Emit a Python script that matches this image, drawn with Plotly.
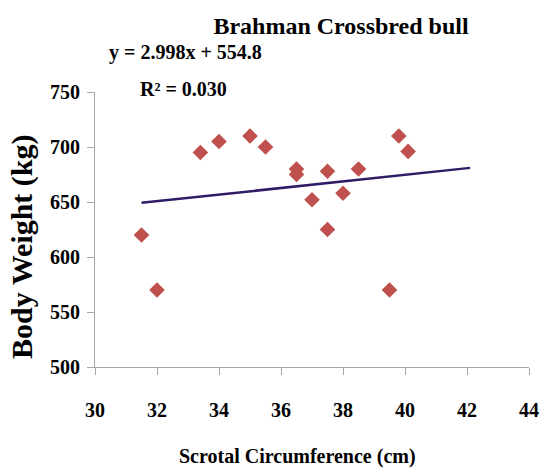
import plotly.graph_objects as go

# Data
scrotal_cm = [31.5, 32.0, 33.4, 34.0, 35.0, 35.5, 36.5, 36.5, 37.0, 37.5, 37.5, 38.0, 38.5, 39.5, 39.8, 40.1]
body_weight = [620, 570, 695, 705, 710, 700, 680, 675, 652, 678, 625, 658, 680, 570, 710, 696]
trend_slope = 2.998
trend_intercept = 554.8
trend_x = [31.5, 42.1]
trend_y = [trend_slope * v + trend_intercept for v in trend_x]
x_ticks = [30, 32, 34, 36, 38, 40, 42, 44]
y_ticks = [500, 550, 600, 650, 700, 750]

FONT = "Liberation Serif"
W, H = 544, 470
L, R, T, B = 95, 15, 92, 103
pw, ph = W - L - R, H - T - B

def px(xp):
    return (xp - L) / pw

def py(yp):
    return (H - B - yp) / ph

fig = go.Figure()
fig.add_trace(go.Scatter(
    x=scrotal_cm, y=body_weight, mode="markers",
    marker=dict(symbol="diamond", size=12, color="#C0504D", line=dict(width=0)),
    showlegend=False, cliponaxis=False,
))
fig.add_trace(go.Scatter(
    x=trend_x, y=trend_y, mode="lines",
    line=dict(color="#2F1B66", width=2.5),
    showlegend=False,
))

axis_common = dict(
    showgrid=False, zeroline=False, showline=True, linecolor="#A6A6A6", linewidth=1,
    ticks="outside", ticklen=7, tickcolor="#A6A6A6", tickwidth=1, automargin=False,
    tickfont=dict(family=FONT, size=20, color="black", weight="bold"),
)
fig.update_xaxes(range=[30, 44], tickvals=x_ticks, ticklabelstandoff=18, **axis_common)
fig.update_yaxes(range=[500, 750], tickvals=y_ticks, ticklabelstandoff=3, **axis_common)

fig.update_layout(
    width=W, height=H,
    margin=dict(l=L, r=R, t=T, b=B, pad=0, autoexpand=False),
    plot_bgcolor="white", paper_bgcolor="white",
    title=dict(
        text="<b>Brahman Crossbred bull</b>",
        font=dict(family=FONT, size=24, color="black"),
        x=341 / W, xanchor="center", xref="container",
        y=1 - 26 / H, yanchor="middle", yref="container",
    ),
    annotations=[
        dict(text="<b>y = 2.998x + 554.8</b>", x=px(185), y=py(53), xref="paper", yref="paper",
             showarrow=False, xanchor="center", yanchor="middle",
             font=dict(family=FONT, size=20, color="black")),
        dict(text="<b>R² = 0.030</b>", x=px(183), y=py(89), xref="paper", yref="paper",
             showarrow=False, xanchor="center", yanchor="middle",
             font=dict(family=FONT, size=20, color="black")),
        dict(text="<b>Scrotal Circumference (cm)</b>", x=px(297), y=py(457), xref="paper", yref="paper",
             showarrow=False, xanchor="center", yanchor="middle",
             font=dict(family=FONT, size=20, color="black")),
        dict(text="<b>Body Weight (kg)</b>", x=px(22), y=py(247), xref="paper", yref="paper",
             showarrow=False, xanchor="center", yanchor="middle", textangle=-90,
             font=dict(family=FONT, size=30, color="black")),
    ],
)

fig.write_html("out.html", config={"displayModeBar": False},
               post_script="document.body.style.margin='0';document.body.style.overflow='hidden';")
